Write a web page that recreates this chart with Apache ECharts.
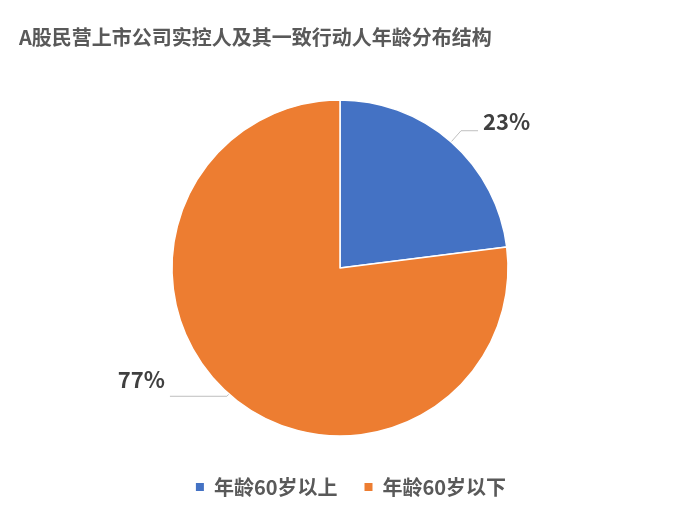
<!DOCTYPE html>
<html>
<head>
<meta charset="utf-8">
<script src="https://cdn.jsdelivr.net/npm/echarts@6/dist/echarts.min.js"></script>
<style>
  html, body { margin: 0; padding: 0; background: #fff; }
  #chart { width: 700px; height: 517px; }
</style>
</head>
<body>
<div id="chart"></div>
<script>
const titleText = 'A股民营上市公司实控人及其一致行动人年龄分布结构'
const categories = ['年龄60岁以上', '年龄60岁以下']
const values = [23, 77]
const colors = ['#4472C4', '#ED7D31']

const font = '"Noto Sans CJK SC", "Noto Sans", sans-serif'

// 引导线长度 (每个扇区单独调)
const lineLens = [
  { length: 15, length2: 17 },
  { length: 3, length2: 57 }
]
// 标签相对引导线末端上移
const labelShift = [-9, -17]

const myChart = echarts.init(document.getElementById('chart'))
let option = {
  color: colors,
  animation: false,
  title: {
    text: titleText,
    left: 14,
    top: 22,
    textStyle: {
      fontFamily: font,
      fontSize: 20,
      fontWeight: 'bold',
      color: '#595959'
    }
  },
  legend: {
    bottom: 15,
    left: 'center',
    itemWidth: 10,
    itemHeight: 10,
    itemGap: 25,
    icon: 'rect',
    textStyle: {
      fontFamily: font,
      fontSize: 20,
      fontWeight: 'bold',
      color: '#595959',
      padding: [0, 0, 0, 4]
    }
  },
  series: [
    {
      type: 'pie',
      center: [340, 268],
      radius: 168,
      startAngle: 90,
      clockwise: true,
      itemStyle: {
        borderColor: '#fff',
        borderWidth: 1.5
      },
      label: {
        show: true,
        formatter: '{c}%',
        fontFamily: font,
        fontSize: 22,
        fontWeight: 'bold',
        color: '#404040'
      },
      labelLine: {
        show: true,
        lineStyle: { color: '#bfbfbf', width: 1 }
      },
      labelLayout: params => ({ dy: labelShift[params.dataIndex] }),
      data: categories.map((name, i) => ({
        name,
        value: values[i],
        labelLine: lineLens[i]
      }))
    }
  ]
}
myChart.setOption(option)
</script>
</body>
</html>
